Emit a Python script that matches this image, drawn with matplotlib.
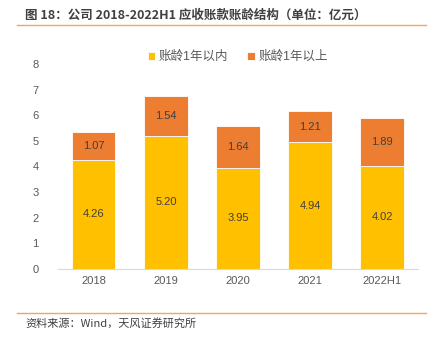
import matplotlib
matplotlib.use("Agg")
import matplotlib.pyplot as plt
from matplotlib.lines import Line2D

plt.rcParams['font.family'] = ['Liberation Sans', 'Noto Sans CJK SC']

years = ['2018', '2019', '2020', '2021', '2022H1']
within_1y = [4.26, 5.20, 3.95, 4.94, 4.02]
over_1y = [1.07, 1.54, 1.64, 1.21, 1.89]

yellow = '#FFC000'
orange = '#ED7D31'
gray = '#595959'

fig = plt.figure(figsize=(4.35, 3.39), dpi=100)
ax = fig.add_axes([0.133, 0.2065, 0.828, 0.6047])

x = range(len(years))
ax.bar(x, within_1y, width=0.6, color=yellow, edgecolor='white', linewidth=0.6,
       label='账龄1年以内')
ax.bar(x, over_1y, width=0.6, bottom=within_1y, color=orange, edgecolor='white',
       linewidth=0.6, label='账龄1年以上')

for i in x:
    ax.text(i, within_1y[i] / 2, f'{within_1y[i]:.2f}', ha='center', va='center',
            fontsize=8, color='#404040')
    ax.text(i, within_1y[i] + over_1y[i] / 2, f'{over_1y[i]:.2f}', ha='center',
            va='center', fontsize=8, color='#404040')

ax.set_ylim(0, 8)
ax.set_xlim(-0.5, len(years) - 0.5)
ax.set_xticks(list(x))
ax.set_xticklabels(years)
ax.set_yticks(range(0, 9))
ax.tick_params(axis='both', length=0, labelsize=8, colors=gray)
ax.tick_params(axis='y', pad=14)
ax.tick_params(axis='x', pad=5)
for s in ['top', 'right', 'left']:
    ax.spines[s].set_visible(False)
ax.spines['bottom'].set_color('#D9D9D9')

ax.legend(loc='center', bbox_to_anchor=(0.5, 1.034), ncol=2, frameon=False,
          fontsize=9, handlelength=0.6, handleheight=0.6, columnspacing=1.5,
          handletextpad=0.3, labelcolor=gray)

fig.text(0.058, 0.955, '图 18：公司 2018-2022H1 应收账款账龄结构（单位：亿元）',
         fontsize=9, fontweight='bold', color='#404040', va='center',
         family=['Noto Sans CJK SC'])
fig.add_artist(Line2D([0.04, 0.98], [0.925, 0.925], color='#F4A460', linewidth=1.0))
fig.add_artist(Line2D([0.04, 0.98], [0.077, 0.077], color='#F4A460', linewidth=1.0))
fig.text(0.058, 0.045, '资料来源：Wind，天风证券研究所', fontsize=8, color='#404040',
         va='center', family=['Noto Sans CJK SC'])

fig.savefig('out.png', dpi=100)
